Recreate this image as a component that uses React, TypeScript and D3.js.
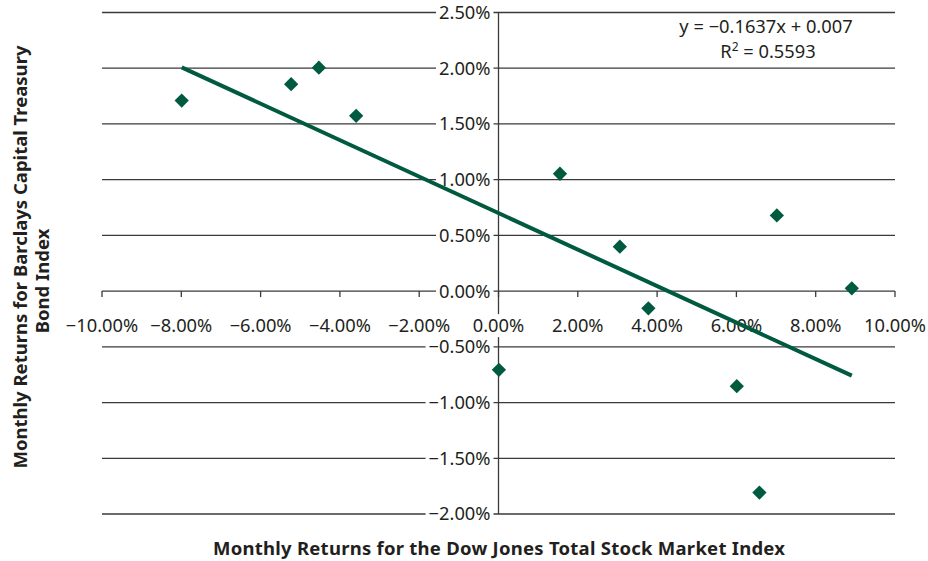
import React, { useEffect, useRef } from "react";
import * as d3 from "d3";

const xValues = [-0.0799, -0.0523, -0.0453, -0.0359, 0.0155, 0.0306, 0.0378, 0.0001, 0.0601, 0.0702, 0.0891, 0.0658];
const yValues = [0.0171, 0.01857, 0.02005, 0.01573, 0.01053, 0.00399, -0.00154, -0.00706, -0.00853, 0.00679, 0.00025, -0.01808];
const xTicks = [-0.1, -0.08, -0.06, -0.04, -0.02, 0, 0.02, 0.04, 0.06, 0.08, 0.1];
const yTicks = [-0.02, -0.015, -0.01, -0.005, 0, 0.005, 0.01, 0.015, 0.02, 0.025];
const slope = -0.1637;
const intercept = 0.007;
const equationText = "y = \u22120.1637x + 0.007";
const r2Value = "0.5593";
const xTitle = "Monthly Returns for the Dow Jones Total Stock Market Index";
const yTitleLines = ["Monthly Returns for Barclays Capital Treasury", "Bond Index"];

const W = 928;
const H = 561;
const GREEN = "#005a40";
const GRID = "#3a3a3a";
const FONT = "'Noto Sans', 'Open Sans', sans-serif";

const fmt = (v: number) => {
  const s = (Math.abs(v) * 100).toFixed(2) + "%";
  return (v < -1e-9 ? "\u2212" : "") + s;
};

export default function App() {
  const ref = useRef<SVGSVGElement | null>(null);
  const x = d3.scaleLinear().domain([-0.1, 0.1]).range([102, 895]);
  const y = d3.scaleLinear().domain([-0.02, 0.025]).range([514, 12.5]);
  const x0 = x(0);
  const y0 = y(0);
  const xMin = d3.min(xValues) as number;
  const xMax = d3.max(xValues) as number;
  const line = d3.line<number>().x((d) => x(d)).y((d) => y(slope * d + intercept));
  const diamond = d3.symbol().type(d3.symbolDiamond2).size(130)();

  useEffect(() => {
    if (!ref.current) return;
    const svg = d3.select(ref.current);
    svg.selectAll("rect.bgbox").remove();
    svg.selectAll<SVGTextElement, unknown>("text.bg").each(function () {
      const b = this.getBBox();
      const pad = 3;
      d3.select(this.parentNode as SVGGElement)
        .insert("rect", () => this)
        .attr("class", "bgbox")
        .attr("x", b.x - pad)
        .attr("y", b.y + 2)
        .attr("width", b.width + pad * 2)
        .attr("height", b.height - 2)
        .attr("fill", "#fff");
    });
  }, []);

  return (
    <svg ref={ref} width={W} height={H} style={{ position: "absolute", left: 0, top: 0, background: "#fff" }}>
      <rect width={W} height={H} fill="#fff" />
      {/* gridlines */}
      {yTicks.map((t) => (
        <line key={"g" + t} x1={x(-0.1)} x2={x(0.1)} y1={y(t)} y2={y(t)} stroke={GRID} strokeWidth={1.3} />
      ))}
      {/* y axis */}
      <line x1={x0} x2={x0} y1={y(0.025)} y2={y(-0.02)} stroke={GRID} strokeWidth={1.3} />
      {/* x tick marks */}
      {xTicks.map((t) => (
        <line key={"xt" + t} x1={x(t)} x2={x(t)} y1={y0} y2={y0 + 6} stroke={GRID} strokeWidth={1.3} />
      ))}
      {/* tick labels */}
      <g fontFamily={FONT} fontSize={18.3} fill="#231f20">
        {yTicks.map((t) => (
          <g key={"yl" + t}>
            <text className="bg" x={x0 - 8} y={y(t)} dy="0.35em" textAnchor="end">
              {fmt(t)}
            </text>
          </g>
        ))}
        {xTicks.map((t) => (
          <g key={"xl" + t}>
            <text className="bg" x={x(t)} y={y0 + 41} textAnchor="middle">
              {fmt(t)}
            </text>
          </g>
        ))}
      </g>
      {/* trend line */}
      <path d={line([xMin, xMax]) || ""} fill="none" stroke={GREEN} strokeWidth={4} />
      {/* points */}
      {xValues.map((v, i) => (
        <path key={"p" + i} d={diamond || ""} transform={`translate(${x(v)},${y(yValues[i])})`} fill={GREEN} />
      ))}
      {/* equation */}
      <g fontFamily={FONT} fontSize={18.3} fill="#231f20" textAnchor="middle">
        <text x={766} y={33}>{equationText}</text>
        <text x={768} y={58}>
          R<tspan dy={-7} fontSize={12}>2</tspan>
          <tspan dy={7}>{" = " + r2Value}</tspan>
        </text>
      </g>
      {/* axis titles */}
      <g fontFamily={FONT} fontSize={18.5} fontWeight="bold" fill="#231f20" textAnchor="middle">
        <text x={499} y={555} textLength={572} lengthAdjust="spacing">{xTitle}</text>
        <g transform={`translate(27,257) rotate(-90)`}>
          <text x={0} y={0} textLength={423} lengthAdjust="spacing">{yTitleLines[0]}</text>
          <text x={-24} y={22}>{yTitleLines[1]}</text>
        </g>
      </g>
    </svg>
  );
}
